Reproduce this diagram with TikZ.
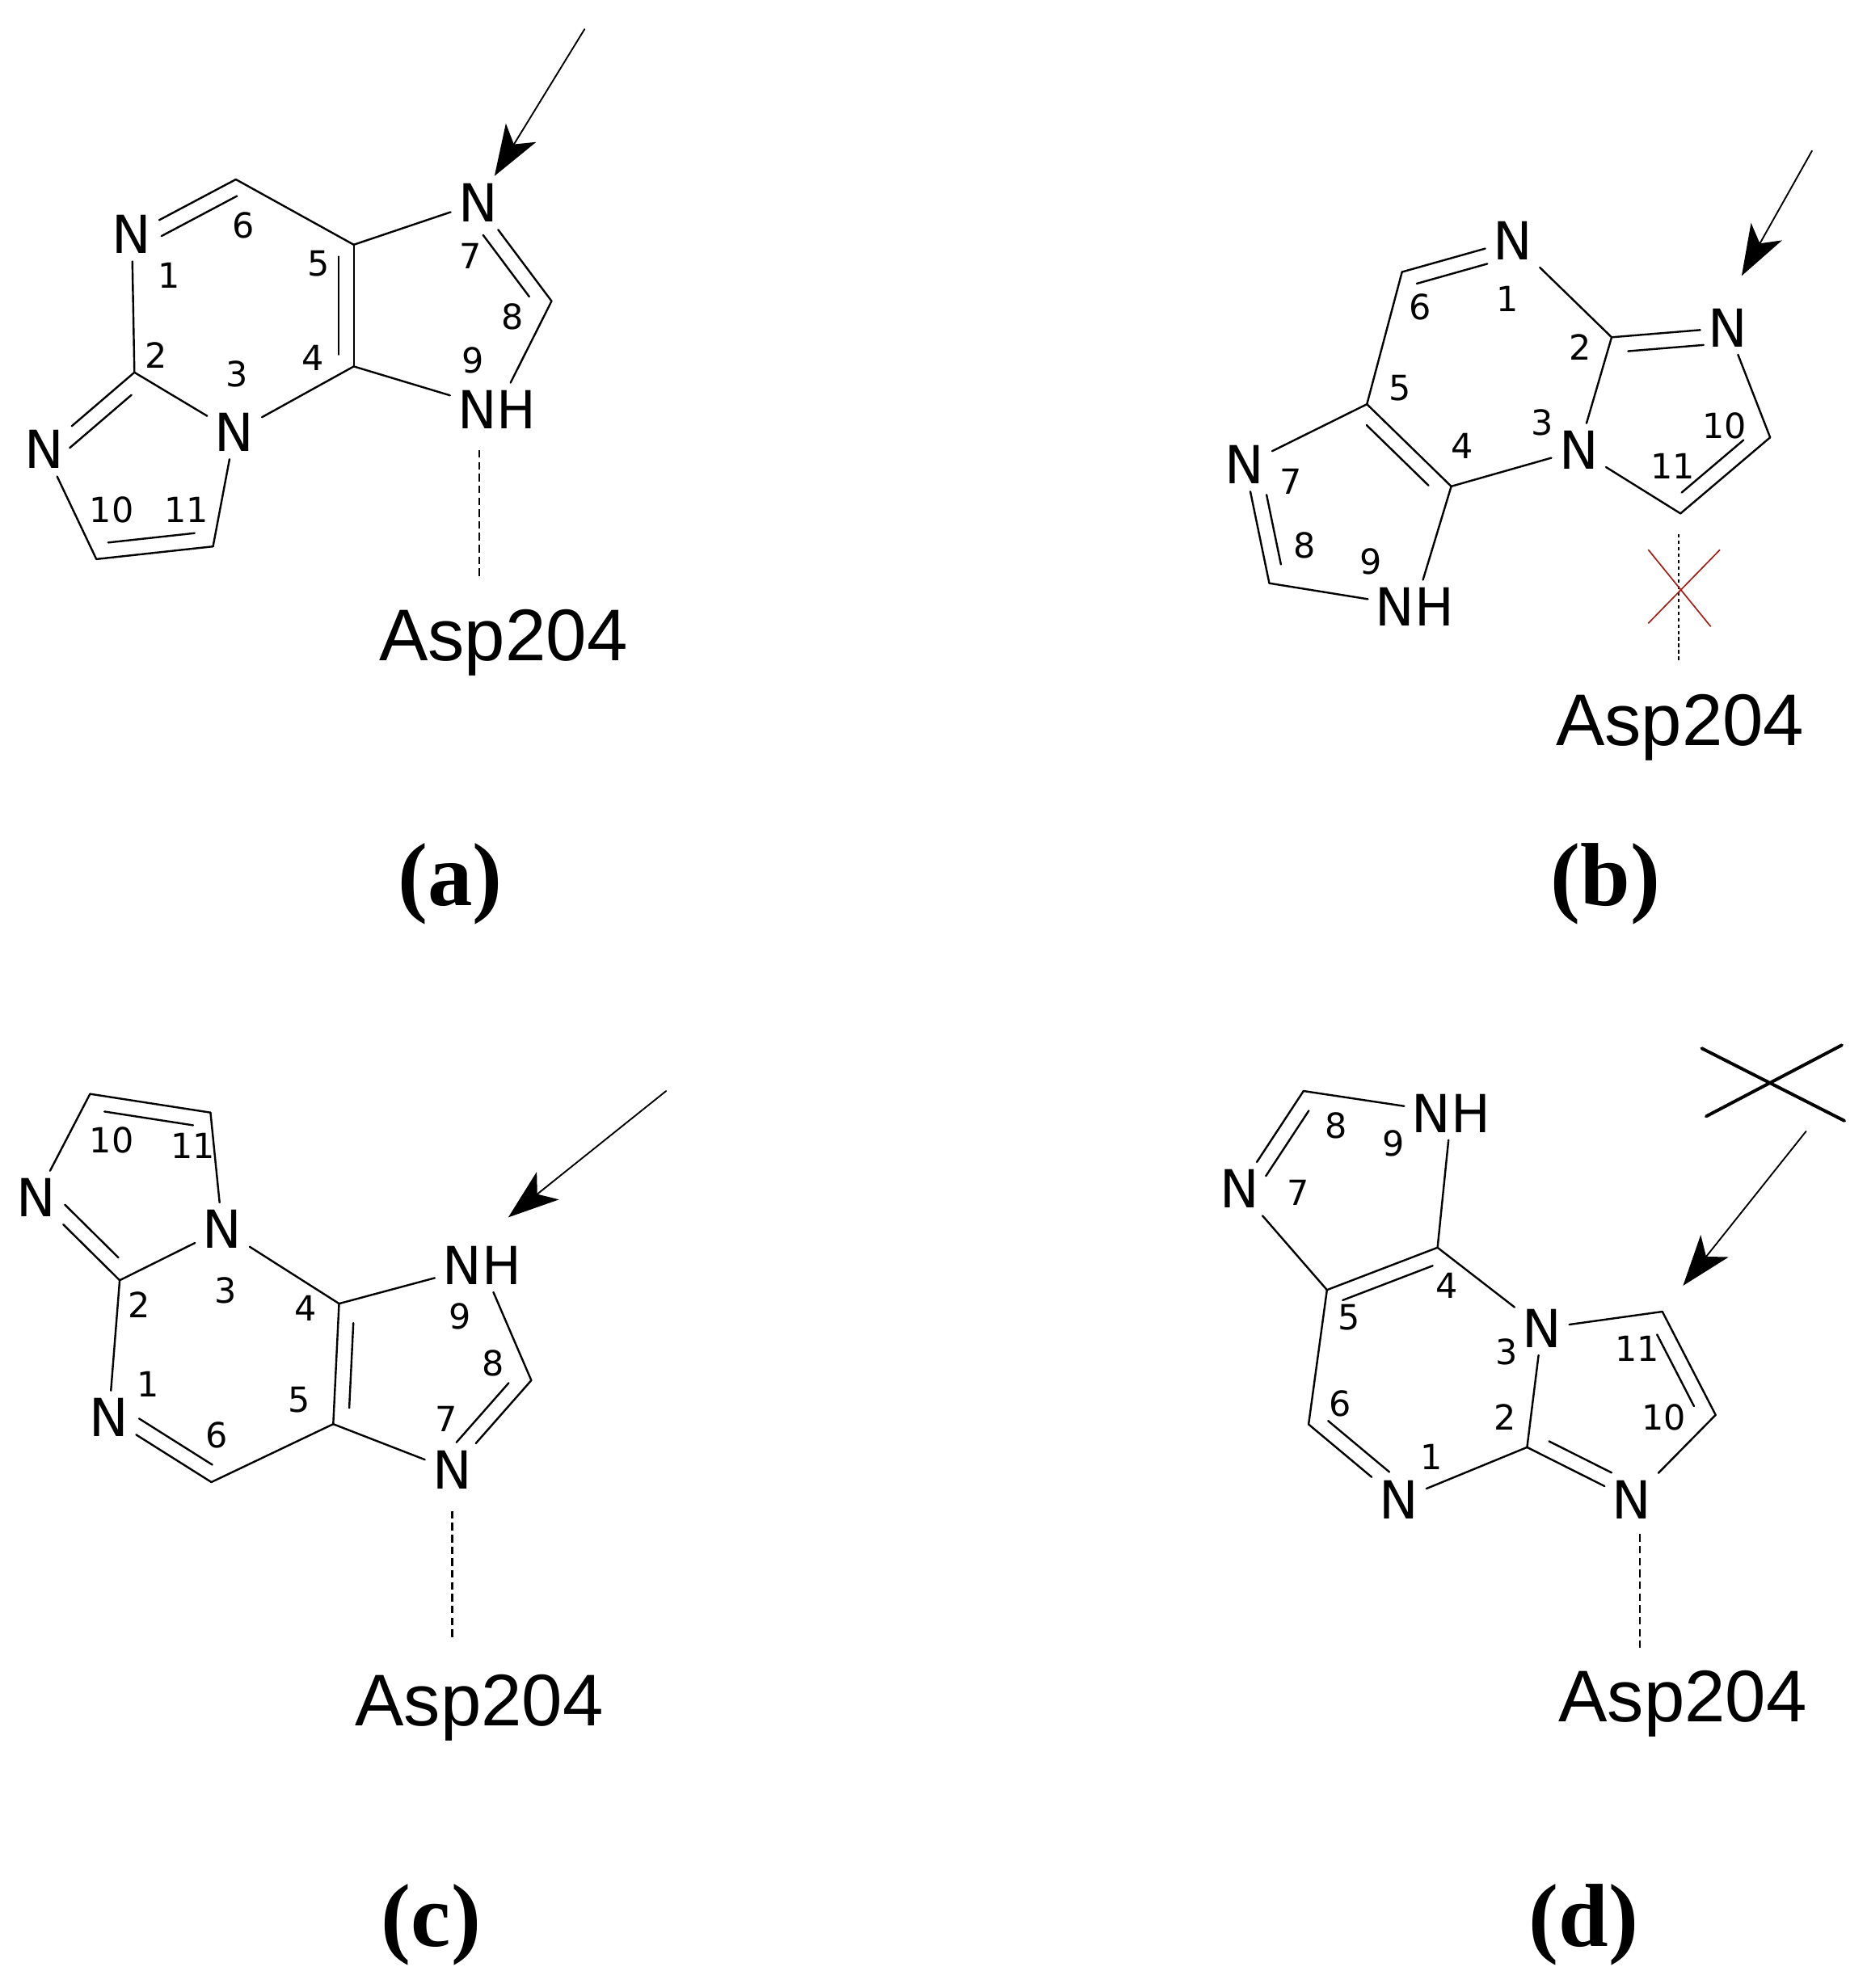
\documentclass[tikz,border=0pt]{standalone}
\usepackage{fontspec}
\usetikzlibrary{arrows.meta,calc}
\newfontfamily\atomfont{DejaVu Sans}
\newfontfamily\residuefont{Liberation Sans}
\newfontfamily\tagfont{Liberation Serif}

\tikzset{every picture/.style={line width=1.15pt,line cap=round}}
\tikzset{
  atom/.style={inner sep=4pt,font=\atomfont\fontsize{31}{31}\selectfont},
  num/.style={inner sep=0pt,font=\atomfont\fontsize{20.5}{20.5}\selectfont},
  residue/.style={inner sep=0pt,font=\residuefont\fontsize{43.3}{43.3}\selectfont},
  panel/.style={inner sep=0pt,font=\tagfont\bfseries\fontsize{53}{53}\selectfont},
  hbond/.style={line width=1pt,dash pattern=on 4.5pt off 2.5pt,line cap=butt},
  nobond/.style={line width=1pt,dash pattern=on 2pt off 1.8pt,line cap=butt},
  attack/.style={line width=0.9pt,-{Stealth[length=30pt,width=21pt,inset=8pt]}},
  cross/.style={line width=1.9pt},
  redcross/.style={line width=0.8pt,draw={rgb,255:red,160;green,30;blue,20}}
}
% from, to, side and distance of the inner line, its two shortenings
\newcommand{\dbond}[5]{
  \draw (#1) -- (#2);
  \draw [shorten <=#4,shorten >=#5] ($(#1)!#3!-90:(#2)$) -- ($(#2)!#3!90:(#1)$);
}

\begin{document}
\begin{tikzpicture}[x=0.75pt,y=0.75pt,yscale=-1,xscale=1]
\useasboundingbox (0,0) rectangle (1472,1568);

%Panel a: atoms
\node (aN1) [atom] at (104,185) {N};
\coordinate (aC6) at (186,141.5);
\coordinate (aC5) at (279,193);
\coordinate (aC4) at (279,289);
\node (aN7) [atom] at (377,160) {N};
\coordinate (aC8) at (435,237.5);
\node (aN9) [atom] at (392,323) {NH};
\node (aN3) [atom] at (185,341) {N};
\coordinate (aC2) at (106,293.7);
\node (aN10) [atom] at (35,354.6) {N};
\coordinate (aC10) at (76,441);
\coordinate (aC11) at (168,431);
\coordinate (aFrom) at (461,23);
\coordinate (aD1) at (378,355);
\coordinate (aD2) at (378,455);
\node (aAsp) [residue] at (397,507) {Asp204};
\node (aTag) [panel] at (355,697) {(a)};
%Panel a: bonds
\draw (aN1) -- (aC2);
\draw (aC6) -- (aC5);
\draw (aC5) -- (aN7);
\draw (aC4) -- (aN9);
\draw (aN9) -- (aC8);
\draw (aC4) -- (aN3);
\draw (aN3) -- (aC2);
\draw (aN3) -- (aC11);
\draw (aN10) -- (aC10);
\dbond{aN1}{aC6}{-9pt}{15pt}{4pt}
\dbond{aC5}{aC4}{-9pt}{7pt}{7pt}
\dbond{aN7}{aC8}{-9pt}{17pt}{10pt}
\dbond{aC2}{aN10}{9pt}{10pt}{12pt}
\dbond{aC10}{aC11}{9pt}{8pt}{10pt}
\draw [attack] (aFrom) -- (aN7);
\draw [hbond] (aD1) -- (aD2);
%Panel a: numbers
\node (aL1) [num] at (133,217) {1};
\node (aL2) [num] at (123,280) {2};
\node (aL3) [num] at (187,295) {3};
\node (aL4) [num] at (247,282) {4};
\node (aL5) [num] at (251,208) {5};
\node (aL6) [num] at (192,178) {6};
\node (aL7) [num] at (371,202) {7};
\node (aL8) [num] at (404,250) {8};
\node (aL9) [num] at (373,284) {9};
\node (aL10) [num] at (88,402) {10};
\node (aL11) [num] at (147,402) {11};

%Panel b: atoms
\node (bN1) [atom] at (1192.8,190) {N};
\coordinate (bC6) at (1105.7,214.5);
\coordinate (bC5) at (1078,318.8);
\coordinate (bC4) at (1144.5,383.6);
\node (bN7) [atom] at (981.7,366.5) {N};
\coordinate (bC8) at (1001,460);
\node (bN9) [atom] at (1115.8,478.5) {NH};
\node (bN3) [atom] at (1245,355) {N};
\coordinate (bC2) at (1271,266);
\node (bN10) [atom] at (1362.4,258.5) {N};
\coordinate (bC10) at (1396,345);
\coordinate (bC11) at (1325.3,405);
\coordinate (bFrom) at (1429,119);
\coordinate (bD1) at (1323.6,421.5);
\coordinate (bD2) at (1323.6,521);
\coordinate (bX1) at (1300,433.7);
\coordinate (bX2) at (1349,494);
\coordinate (bX3) at (1356.3,433.7);
\coordinate (bX4) at (1300,491.5);
\node (bAsp) [residue] at (1325,574) {Asp204};
\node (bTag) [panel] at (1266,697) {(b)};
%Panel b: bonds
\draw (bC6) -- (bC5);
\draw (bC5) -- (bN7);
\draw (bC4) -- (bN9);
\draw (bN9) -- (bC8);
\draw (bC4) -- (bN3);
\draw (bN3) -- (bC2);
\draw (bC2) -- (bN1);
\draw (bN3) -- (bC11);
\draw (bN10) -- (bC10);
\dbond{bC6}{bN1}{-9pt}{6.5pt}{18pt}
\dbond{bC5}{bC4}{-9pt}{8.5pt}{10pt}
\dbond{bN7}{bC8}{9pt}{20pt}{9.5pt}
\dbond{bC2}{bN10}{-9pt}{9pt}{15pt}
\dbond{bC11}{bC10}{9pt}{8.5pt}{13pt}
\draw [attack,shorten >=17pt] (bFrom) -- (bN10.north);
\draw [nobond] (bD1) -- (bD2);
\draw [redcross] (bX1) -- (bX2);
\draw [redcross] (bX3) -- (bX4);
%Panel b: numbers
\node (bL1) [num] at (1189,236) {1};
\node (bL2) [num] at (1246,274) {2};
\node (bL3) [num] at (1216,333) {3};
\node (bL4) [num] at (1153,352) {4};
\node (bL5) [num] at (1104,306) {5};
\node (bL6) [num] at (1120,242) {6};
\node (bL7) [num] at (1018,380) {7};
\node (bL8) [num] at (1029,430) {8};
\node (bL9) [num] at (1081,443) {9};
\node (bL10) [num] at (1360,336) {10};
\node (bL11) [num] at (1319,368) {11};

%Panel c: atoms
\node (cN10) [atom] at (28.5,944.6) {N};
\coordinate (cC2) at (94.4,1009.8);
\node (cN3) [atom] at (175.3,969.6) {N};
\coordinate (cC10) at (71,862.8);
\coordinate (cC11) at (166,877.5);
\coordinate (cC4) at (267.4,1028.2);
\coordinate (cC5) at (262.8,1123.2);
\coordinate (cC6) at (166.7,1169);
\node (cN1) [atom] at (85.8,1118) {N};
\node (cN7) [atom] at (356.6,1159.6) {N};
\coordinate (cC8) at (419,1088.7);
\node (cN9) [atom] at (380,998) {NH};
\coordinate (cFrom) at (525.3,860.5);
\coordinate (cD1) at (356.6,1191.8);
\coordinate (cD2) at (356.6,1292);
\node (cAsp) [residue] at (378,1347) {Asp204};
\node (cTag) [panel] at (340,1518) {(c)};
%Panel c: bonds
\draw (cC11) -- (cN3);
\draw (cN10) -- (cC10);
\draw (cN3) -- (cC2);
\draw (cC2) -- (cN1);
\draw (cN3) -- (cC4);
\draw (cC4) -- (cN9);
\draw (cN9) -- (cC8);
\draw (cC5) -- (cN7);
\draw (cC5) -- (cC6);
\dbond{cC10}{cC11}{-9pt}{10pt}{9pt}
\dbond{cN10}{cC2}{9pt}{15pt}{10pt}
\dbond{cC4}{cC5}{9pt}{11pt}{10pt}
\dbond{cN1}{cC6}{9pt}{15.5pt}{5pt}
\dbond{cN7}{cC8}{9pt}{14pt}{10pt}
\draw [attack,shorten >=20pt] (cFrom) -- (cN9.north);
\draw [hbond] (cD1) -- (cD2);
%Panel c: numbers
\node (cL1) [num] at (117,1092) {1};
\node (cL2) [num] at (110,1029) {2};
\node (cL3) [num] at (178,1018) {3};
\node (cL4) [num] at (241,1032) {4};
\node (cL5) [num] at (236,1104) {5};
\node (cL6) [num] at (171,1132) {6};
\node (cL7) [num] at (352,1119) {7};
\node (cL8) [num] at (389,1075) {8};
\node (cL9) [num] at (363,1038) {9};
\node (cL10) [num] at (88,899) {10};
\node (cL11) [num] at (152,904) {11};

%Panel d: atoms
\node (dN9) [atom] at (1144.5,878) {NH};
\coordinate (dC8) at (1028,860.5);
\node (dN7) [atom] at (977.3,937.7) {N};
\coordinate (dC5) at (1046.5,1017.4);
\coordinate (dC4) at (1133.7,984);
\node (dN3) [atom] at (1216,1047.7) {N};
\coordinate (dC6) at (1032,1123.4);
\node (dN1) [atom] at (1103.3,1183) {N};
\coordinate (dC2) at (1204.3,1141.5);
\node (dN10) [atom] at (1287,1183) {N};
\coordinate (dC10) at (1353,1116);
\coordinate (dC11) at (1311,1034.5);
\coordinate (dFrom) at (1424.3,892.3);
\coordinate (dD1) at (1293,1210);
\coordinate (dD2) at (1293,1299.4);
\coordinate (dX1) at (1342,826.8);
\coordinate (dX2) at (1454.6,884);
\coordinate (dX3) at (1452.6,824.3);
\coordinate (dX4) at (1345.5,880.5);
\node (dAsp) [residue] at (1327,1344) {Asp204};
\node (dTag) [panel] at (1249,1518) {(d)};
%Panel d: bonds
\draw (dC8) -- (dN9);
\draw (dN9) -- (dC4);
\draw (dN7) -- (dC5);
\draw (dC5) -- (dC6);
\draw (dC4) -- (dN3);
\draw (dN3) -- (dC2);
\draw (dC2) -- (dN1);
\draw (dN3) -- (dC11);
\draw (dC10) -- (dN10);
\dbond{dN7}{dC8}{-9pt}{15pt}{8pt}
\dbond{dC5}{dC4}{-9pt}{6.5pt}{6.5pt}
\dbond{dC6}{dN1}{9pt}{7.5pt}{15pt}
\dbond{dC2}{dN10}{9pt}{10pt}{18pt}
\dbond{dC11}{dC10}{-9pt}{10.6pt}{10.4pt}
\draw [attack,shorten >=19.6pt] (dFrom) -- (dC11);
\draw [hbond] (dD1) -- (dD2);
\draw [cross] (dX1) -- (dX2);
\draw [cross] (dX3) -- (dX4);
%Panel d: numbers
\node (dL1) [num] at (1129,1149) {1};
\node (dL2) [num] at (1187,1118) {2};
\node (dL3) [num] at (1188,1066) {3};
\node (dL4) [num] at (1141,1014) {4};
\node (dL5) [num] at (1064,1039) {5};
\node (dL6) [num] at (1057,1107) {6};
\node (dL7) [num] at (1024,941) {7};
\node (dL8) [num] at (1054,888) {8};
\node (dL9) [num] at (1099,902) {9};
\node (dL10) [num] at (1312,1118) {10};
\node (dL11) [num] at (1291,1064) {11};

\end{tikzpicture}
\end{document}
